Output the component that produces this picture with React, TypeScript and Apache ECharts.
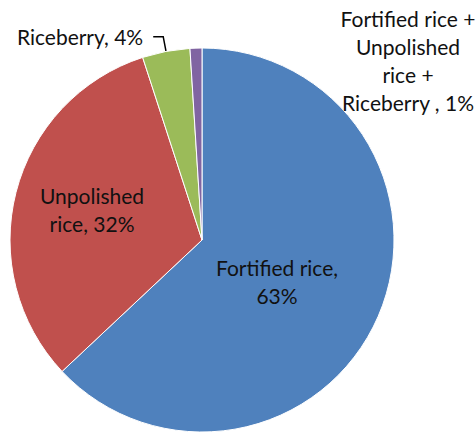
import React, { useEffect, useRef } from "react";
import * as echarts from "echarts";

const categories = [
  "Fortified rice",
  "Unpolished rice",
  "Riceberry",
  "Fortified rice + Unpolished rice + Riceberry ",
];
const labelTexts = [
  "Fortified rice,\n63%",
  "Unpolished\nrice, 32%",
  "Riceberry, 4%",
  "Fortified rice +\nUnpolished\nrice +\nRiceberry , 1%",
];
const values = [63, 32, 4, 1];
const colors = ["#4F81BD", "#C0504D", "#9BBB59", "#8064A2"];
const positions = ["inside", "inside", "outside", "inside"];
const labelSpots: (number[] | null)[] = [[277, 281], [92, 209], null, [408, 60]];

export default function App() {
  const ref = useRef<HTMLDivElement>(null);
  useEffect(() => {
    document.body.style.margin = "0";
    if (!ref.current) return;
    const chart = echarts.init(ref.current, undefined, { renderer: "svg" });
    chart.setOption({
      animation: false,
      backgroundColor: "#ffffff",
      series: [
        {
          type: "pie",
          center: [202, 240],
          radius: [0, 192],
          startAngle: 90,
          clockwise: true,
          avoidLabelOverlap: false,
          itemStyle: { borderColor: "#ffffff", borderWidth: 1 },
          label: {
            fontFamily: "Lato, 'Liberation Sans', sans-serif",
            fontSize: 21,
            lineHeight: 28,
            color: "#111111",
            distanceToLabelLine: 10,
            formatter: (p: any) => labelTexts[p.dataIndex],
          },
          labelLine: {
            length: 15,
            length2: 10,
            lineStyle: { color: "#000000", width: 1.5 },
          },
          labelLayout: (p: any) => {
            const s = labelSpots[p.dataIndex];
            if (!s) return {};
            return { x: s[0], y: s[1], align: "center", verticalAlign: "middle" };
          },
          data: categories.map((name, i) => ({
            name,
            value: values[i],
            itemStyle: { color: colors[i] },
            label: { position: positions[i] },
            labelLine: { show: positions[i] === "outside" },
          })),
        },
      ],
    });
    return () => chart.dispose();
  }, []);
  return <div ref={ref} style={{ width: 476, height: 432 }} />;
}
